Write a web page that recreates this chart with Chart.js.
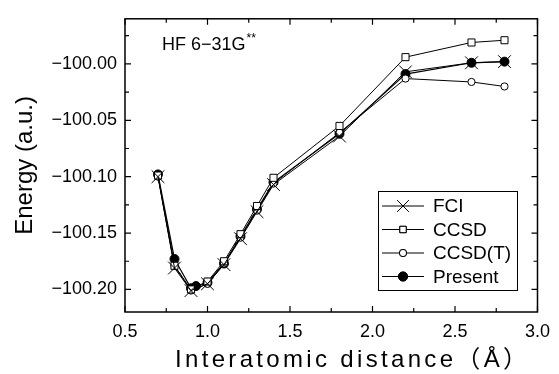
<!DOCTYPE html>
<html>
<head>
<meta charset="utf-8">
<script src="https://cdn.jsdelivr.net/npm/chart.js@4.4.1/dist/chart.umd.min.js"></script>
<style>
  html, body { margin: 0; padding: 0; background: #fff; }
  #wrap { width: 559px; height: 374px; }
</style>
</head>
<body>
<div id="wrap"><canvas id="chart" width="559" height="374"></canvas></div>
<script>
const FONT = "'Liberation Sans', Arial, 'Noto Sans CJK JP', sans-serif";

// data
const seriesNames = ['FCI', 'CCSD', 'CCSD(T)', 'Present'];
const distX = [0.7, 0.8, 0.9, 1.0, 1.1, 1.2, 1.3, 1.4, 1.8, 2.2, 2.6, 2.8];
const fciE = [-100.100, -100.181, -100.201, -100.195, -100.178, -100.155, -100.131, -100.107, -100.064, -100.007, -99.999, -99.998];
const ccsdE = [-100.099, -100.179, -100.200, -100.193, -100.175, -100.151, -100.126, -100.101, -100.055, -99.994, -99.981, -99.979];
const ccsdtE = [-100.100, -100.179, -100.201, -100.195, -100.177, -100.154, -100.130, -100.106, -100.061, -100.013, -100.016, -100.020];
const presentX = [0.7, 0.8, 0.9, 0.93, 1.0, 1.1, 1.2, 1.3, 1.4, 1.8, 2.2, 2.6, 2.8];
const presentE = [-100.098, -100.173, -100.199, -100.197, -100.194, -100.177, -100.153, -100.129, -100.105, -100.062, -100.009, -99.999, -99.998];

const xTicks = [0.5, 1.0, 1.5, 2.0, 2.5, 3.0];
const xMinor = [0.75, 1.25, 1.75, 2.25, 2.75];
const yTicks = [-100.20, -100.15, -100.10, -100.05, -100.00];
const yMinor = [-100.175, -100.125, -100.075, -100.025, -99.975];

const xTitle = 'Interatomic distance\uFF08\u00C5\uFF09';

const pts = (xs, ys) => xs.map((x, i) => ({ x: x, y: ys[i] }));

const markers = [
  { style: 'crossRot', r: 9, fill: '#000', lr: 8 },
  { style: 'rect', r: 5, fill: '#fff', lr: 4.5 },
  { style: 'circle', r: 3.6, fill: '#fff', lr: 3.6 },
  { style: 'circle', r: 4.5, fill: '#000', lr: 4.5 }
];

const frameAndDecor = {
  id: 'frameAndDecor',
  afterDraw(chart) {
    const ctx = chart.ctx;
    const a = chart.chartArea;
    const xs = chart.scales.x, ys = chart.scales.y;
    ctx.save();
    ctx.strokeStyle = '#000';
    ctx.lineWidth = 1.5;
    ctx.strokeRect(a.left, a.top, a.right - a.left, a.bottom - a.top);

    ctx.lineWidth = 1.2;
    const tickX = (v, len) => {
      const p = xs.getPixelForValue(v);
      ctx.beginPath();
      ctx.moveTo(p, a.bottom); ctx.lineTo(p, a.bottom - len);
      ctx.moveTo(p, a.top); ctx.lineTo(p, a.top + len);
      ctx.stroke();
    };
    const tickY = (v, len) => {
      const p = ys.getPixelForValue(v);
      ctx.beginPath();
      ctx.moveTo(a.left, p); ctx.lineTo(a.left + len, p);
      ctx.moveTo(a.right, p); ctx.lineTo(a.right - len, p);
      ctx.stroke();
    };
    xTicks.forEach(v => tickX(v, 6));
    xMinor.forEach(v => tickX(v, 4));
    yTicks.forEach(v => tickY(v, 6));
    yMinor.forEach(v => tickY(v, 4));

    // label
    ctx.fillStyle = '#000';
    ctx.textBaseline = 'alphabetic';
    ctx.textAlign = 'left';
    ctx.font = '18px ' + FONT;
    ctx.fillText('HF 6\u221231G', 162, 50);
    const w = ctx.measureText('HF 6\u221231G').width;
    ctx.font = '12px ' + FONT;
    ctx.fillText('**', 162 + w + 1, 42);

    // x axis title, wide spaced as in the original
    ctx.font = '24px ' + FONT;
    ctx.textBaseline = 'middle';
    const tw = ctx.measureText(xTitle).width;
    const n = [...xTitle].length;
    ctx.letterSpacing = Math.max(0, (352 - tw) / (n - 1)).toFixed(2) + 'px';
    ctx.fillText(xTitle, 175, 360);
    ctx.letterSpacing = '0px';

    // legend
    const bx = 378, by = 191, bw = 139, bh = 99;
    ctx.lineWidth = 1;
    ctx.strokeRect(bx + 0.5, by + 0.5, bw, bh);
    ctx.font = '19px ' + FONT;
    ctx.textBaseline = 'middle';
    const rowY = [206, 229.5, 253, 276.5];
    chart.data.datasets.forEach((ds, i) => {
      const y = rowY[i];
      ctx.strokeStyle = '#000';
      ctx.lineWidth = 1;
      ctx.beginPath();
      ctx.moveTo(382, y); ctx.lineTo(424, y);
      ctx.stroke();
      const m = markers[i];
      Chart.helpers.drawPoint(ctx, {
        pointStyle: m.style, radius: m.lr, borderWidth: 1, rotation: 0
      }, 403, y);
      ctx.fillStyle = m.fill;
      if (m.style !== 'crossRot') ctx.fill();
      ctx.stroke();
      ctx.fillStyle = '#000';
      ctx.fillText(ds.label, 433, y + 1);
    });
    ctx.restore();
  }
};

new Chart(document.getElementById('chart'), {
  type: 'line',
  data: {
    datasets: [fciE, ccsdE, ccsdtE].map((e, i) => ({
      label: seriesNames[i],
      data: pts(distX, e),
      borderColor: '#000',
      borderWidth: 1,
      pointStyle: markers[i].style,
      pointRadius: markers[i].r,
      pointBorderWidth: 1,
      pointBorderColor: '#000',
      pointBackgroundColor: markers[i].fill,
      tension: 0,
      fill: false
    })).concat([{
      label: seriesNames[3],
      data: pts(presentX, presentE),
      borderColor: '#000',
      borderWidth: 1.2,
      pointStyle: markers[3].style,
      pointRadius: markers[3].r,
      pointBorderWidth: 1,
      pointBorderColor: '#000',
      pointBackgroundColor: markers[3].fill,
      tension: 0,
      fill: false
    }])
  },
  options: {
    responsive: false,
    animation: false,
    devicePixelRatio: 1,
    layout: { padding: { top: 10, right: 20, left: 0, bottom: 0 } },
    plugins: { legend: { display: false }, tooltip: { enabled: false } },
    scales: {
      x: {
        type: 'linear',
        min: 0.5,
        max: 3.0,
        grid: { display: false, drawTicks: false },
        border: { display: false },
        afterBuildTicks: s => { s.ticks = xTicks.map(v => ({ value: v })); },
        afterFit: s => { s.height = 62; },
        ticks: {
          color: '#000',
          padding: 9,
          font: { family: FONT, size: 18 },
          callback: v => v.toFixed(1)
        },
        title: { display: false }
      },
      y: {
        type: 'linear',
        min: -100.22,
        max: -99.96,
        grid: { display: false, drawTicks: false },
        border: { display: false },
        afterBuildTicks: s => { s.ticks = yTicks.map(v => ({ value: v })); },
        afterFit: s => { s.width = 125; },
        ticks: {
          color: '#000',
          padding: 8,
          font: { family: FONT, size: 18 },
          callback: v => '\u2212' + Math.abs(v).toFixed(2)
        },
        title: {
          display: true,
          text: 'Energy (a.u.)',
          color: '#000',
          font: { family: FONT, size: 24 },
          padding: { top: 11, bottom: 0 }
        }
      }
    }
  },
  plugins: [frameAndDecor]
});
</script>
</body>
</html>
